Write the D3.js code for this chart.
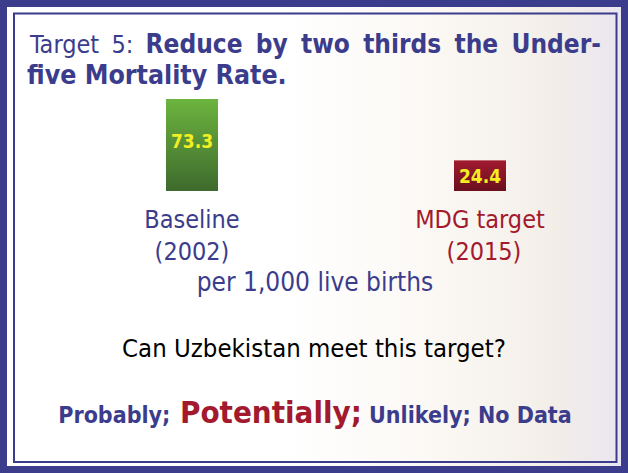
<!DOCTYPE html>
<html>
<head>
<meta charset="utf-8">
<script src="https://cdn.jsdelivr.net/npm/d3@7"></script>
<style>
  body { margin: 0; background: #fff; }
  svg { display: block; }
</style>
</head>
<body>
<div id="chart"></div>
<script>
// data
var categories = ["Baseline", "MDG target"];
var years = ["(2002)", "(2015)"];
var values = [73.3, 24.4];
var answers = ["Probably;", "Potentially;", "Unlikely;", "No Data"];
var highlighted = "Potentially;";

var W = 628, H = 473;
var navy = "#3b3d8c", red = "#a3192d";
var font = "'DejaVu Sans Condensed', 'DejaVu Sans', sans-serif";

var svg = d3.select("#chart")
    .append("svg")
    .attr("width", W)
    .attr("height", H)
    .style("font-family", font);

var defs = svg.append("defs");

var bg = defs.append("linearGradient").attr("id", "bg")
    .attr("x1", "0").attr("x2", "1").attr("y1", "0").attr("y2", "0");
bg.append("stop").attr("offset", "0%").attr("stop-color", "#ffffff");
bg.append("stop").attr("offset", "45%").attr("stop-color", "#ffffff");
bg.append("stop").attr("offset", "70%").attr("stop-color", "#fbf8f4");
bg.append("stop").attr("offset", "88%").attr("stop-color", "#f3eee8");
bg.append("stop").attr("offset", "100%").attr("stop-color", "#e9e5f0");

var gGreen = defs.append("linearGradient").attr("id", "gGreen")
    .attr("x1", "0").attr("x2", "0").attr("y1", "0").attr("y2", "1");
gGreen.append("stop").attr("offset", "0%").attr("stop-color", "#6cb43f");
gGreen.append("stop").attr("offset", "100%").attr("stop-color", "#3e6a2d");

var gRed = defs.append("linearGradient").attr("id", "gRed")
    .attr("x1", "0").attr("x2", "0").attr("y1", "0").attr("y2", "1");
gRed.append("stop").attr("offset", "0%").attr("stop-color", "#a21a2f");
gRed.append("stop").attr("offset", "100%").attr("stop-color", "#6a0f1e");

// background + frame
svg.append("rect").attr("width", W).attr("height", H).attr("fill", "url(#bg)");
svg.append("rect")
    .attr("x", 3.5).attr("y", 3.5)
    .attr("width", W - 7).attr("height", H - 7)
    .attr("fill", "none").attr("stroke", navy).attr("stroke-width", 7);
svg.append("rect")
    .attr("x", 14).attr("y", 13.5)
    .attr("width", 602.5).attr("height", 448.5)
    .attr("fill", "none").attr("stroke", navy).attr("stroke-width", 2);

// title
var title = svg.append("text")
    .attr("x", 30).attr("y", 53)
    .attr("fill", navy)
    .style("font-size", "25px");
title.append("tspan").text("Target 5: ");
title.append("tspan").attr("font-weight", "bold").style("font-size", "26px")
    .text("Reduce by two thirds the Under-");
// the original line is justified, so spread the words out to reach x = 601
var tw = title.node().getComputedTextLength();
title.attr("word-spacing", ((601 - 30) - tw) / 7);

svg.append("text")
    .attr("x", 27).attr("y", 84)
    .attr("fill", navy)
    .attr("font-weight", "bold")
    .style("font-size", "26.5px")
    .text("five Mortality Rate.");

// scales
var x = d3.scalePoint().domain(categories).range([192, 480]);
var y = d3.scaleLinear().domain([0, 73.3]).range([191, 99]);
var barW = 52;
var fills = ["url(#gGreen)", "url(#gRed)"];
var labelColors = [navy, red];

var bars = svg.selectAll("g.bar")
    .data(categories)
    .enter()
    .append("g")
    .attr("class", "bar");

bars.append("rect")
    .attr("x", function(d){ return x(d) - barW / 2; })
    .attr("y", function(d, i){ return y(values[i]); })
    .attr("width", barW)
    .attr("height", function(d, i){ return y(0) - y(values[i]); })
    .attr("fill", function(d, i){ return fills[i]; });

bars.append("text")
    .attr("x", function(d){ return x(d); })
    .attr("y", function(d, i){ return i == 0 ? 148 : y(values[i]) + (y(0) - y(values[i])) / 2 + 7; })
    .attr("text-anchor", "middle")
    .attr("font-weight", "bold")
    .attr("fill", "#f2ee22")
    .style("font-size", "19px")
    .text(function(d, i){ return values[i]; });

bars.append("text")
    .attr("x", function(d){ return x(d); })
    .attr("y", 228)
    .attr("text-anchor", "middle")
    .attr("fill", function(d, i){ return labelColors[i]; })
    .style("font-size", "25px")
    .text(function(d){ return d; });

bars.append("text")
    .attr("x", function(d, i){ return x(d) + (i == 0 ? 0 : 4); })
    .attr("y", 260)
    .attr("text-anchor", "middle")
    .attr("fill", function(d, i){ return labelColors[i]; })
    .style("font-size", "25px")
    .text(function(d, i){ return years[i]; });

svg.append("text")
    .attr("x", 315).attr("y", 291)
    .attr("text-anchor", "middle")
    .attr("fill", navy)
    .style("font-size", "26px")
    .text("per 1,000 live births");

svg.append("text")
    .attr("x", 314).attr("y", 357)
    .attr("text-anchor", "middle")
    .attr("fill", "#000")
    .style("font-size", "25.5px")
    .text("Can Uzbekistan meet this target?");

var ans = svg.append("text")
    .attr("x", 315).attr("y", 423)
    .attr("text-anchor", "middle")
    .attr("font-weight", "bold");
ans.selectAll("tspan")
    .data(answers)
    .enter()
    .append("tspan")
    .attr("fill", function(d){ return d == highlighted ? red : navy; })
    .style("font-size", function(d){ return d == highlighted ? "31px" : "23px"; })
    .text(function(d, i){ return (i > 0 ? " " : "") + d; });
</script>
</body>
</html>
